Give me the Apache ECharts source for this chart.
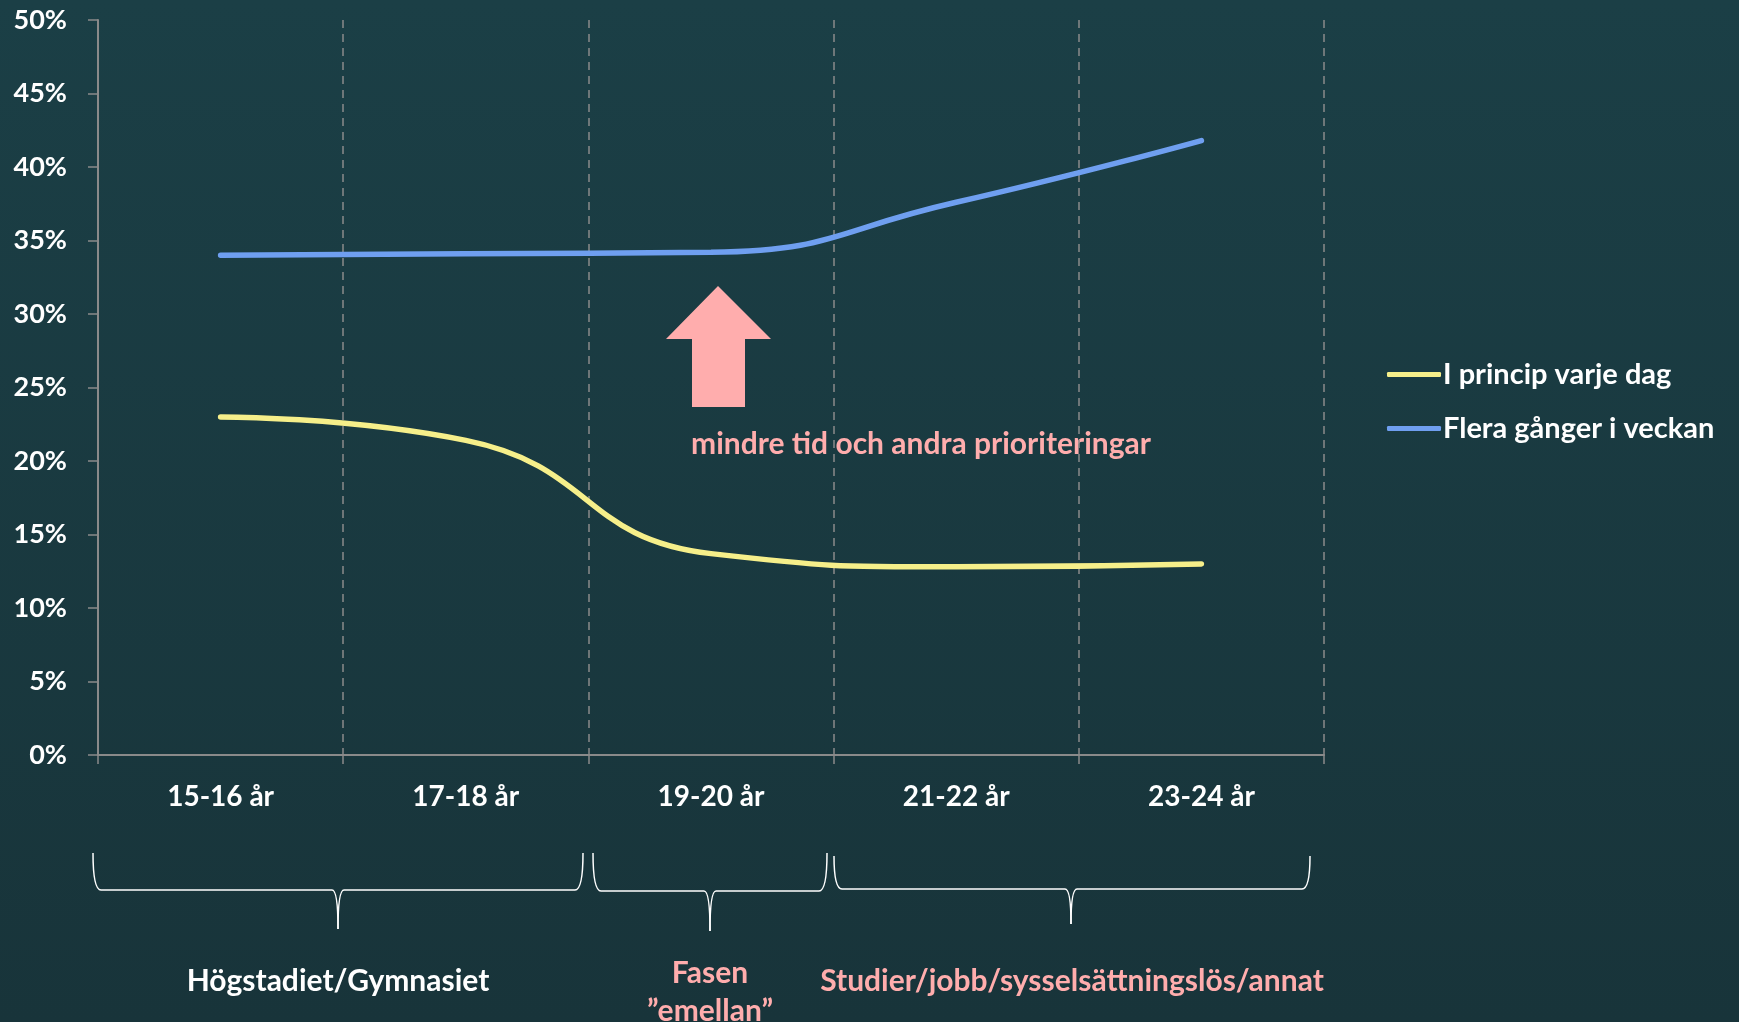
<!DOCTYPE html>
<html>
<head>
<meta charset="utf-8">
<script src="https://cdn.jsdelivr.net/npm/echarts@6/dist/echarts.min.js"></script>
<style>
html,body{margin:0;padding:0;background:#1a3c42;}
#main{width:1739px;height:1022px;}
</style>
</head>
<body>
<div id="main"></div>
<script>
var categories = ['15-16 år', '17-18 år', '19-20 år', '21-22 år', '23-24 år'];
var dailyValues = [23.0, 21.4, 13.7, 12.8, 13.0];
var weeklyValues = [34.0, 34.1, 34.2, 37.6, 41.8];
var seriesNames = ['I princip varje dag', 'Flera gånger i veckan'];
var colors = ['#f6ef8a', '#6f9ff0'];
var pink = '#ffadad';
var font = 'Lato';

// klammer under x-axeln, byggd av kurvor och linjer
function brace(x0, x1, xm, yt, yh, yb) {
    var st = {stroke: '#fff', lineWidth: 1.5, fill: null};
    return [
        {type: 'bezierCurve', shape: {x1: x0, y1: yt, x2: x0 + 8, y2: yh, cpx1: x0, cpy1: yh}, style: st},
        {type: 'line', shape: {x1: x0 + 8, y1: yh, x2: xm - 6, y2: yh}, style: st},
        {type: 'bezierCurve', shape: {x1: xm - 6, y1: yh, x2: xm, y2: yb, cpx1: xm, cpy1: yh}, style: st},
        {type: 'bezierCurve', shape: {x1: xm + 6, y1: yh, x2: xm, y2: yb, cpx1: xm, cpy1: yh}, style: st},
        {type: 'line', shape: {x1: xm + 6, y1: yh, x2: x1 - 8, y2: yh}, style: st},
        {type: 'bezierCurve', shape: {x1: x1, y1: yt, x2: x1 - 8, y2: yh, cpx1: x1, cpy1: yh}, style: st}
    ];
}

var graphics = [
    {
        type: 'polygon',
        shape: {points: [[718, 286], [771, 339], [745, 339], [745, 407], [692, 407], [692, 339], [666, 339]]},
        style: {fill: pink}
    },
    {
        type: 'text', x: 921, y: 444,
        style: {text: 'mindre tid och andra prioriteringar', fill: pink, font: 'bold 30px ' + font, align: 'center', verticalAlign: 'middle'}
    },
    {
        type: 'text', x: 338, y: 981,
        style: {text: 'Högstadiet/Gymnasiet', fill: '#fff', font: 'bold 30px ' + font, align: 'center', verticalAlign: 'middle'}
    },
    {
        type: 'text', x: 710, y: 973,
        style: {text: 'Fasen', fill: pink, font: 'bold 30px ' + font, align: 'center', verticalAlign: 'middle'}
    },
    {
        type: 'text', x: 710, y: 1011,
        style: {text: '”emellan”', fill: pink, font: 'bold 30px ' + font, align: 'center', verticalAlign: 'middle'}
    },
    {
        type: 'text', x: 1072, y: 981,
        style: {text: 'Studier/jobb/sysselsättningslös/annat', fill: pink, font: 'bold 30px ' + font, align: 'center', verticalAlign: 'middle'}
    }
].concat(brace(93, 583, 338, 853, 890, 929))
 .concat(brace(593, 827, 710, 853, 891, 931))
 .concat(brace(834, 1310, 1071, 856, 889, 924));

var option = {
    backgroundColor: {
        type: 'linear', x: 0, y: 0, x2: 0, y2: 1,
        colorStops: [{offset: 0, color: '#1b3f46'}, {offset: 1, color: '#18343a'}]
    },
    textStyle: {fontFamily: font},
    grid: {left: 98, right: 415, top: 20, bottom: 267},
    legend: {
        orient: 'vertical',
        left: 1382,
        top: 355,
        itemWidth: 54,
        itemHeight: 5,
        itemGap: 25,
        icon: 'roundRect',
        textStyle: {color: '#fff', fontSize: 29, fontWeight: 'bold', fontFamily: font, padding: [0, 0, 0, -3]},
        data: seriesNames
    },
    xAxis: {
        type: 'category',
        boundaryGap: true,
        data: categories,
        axisLine: {lineStyle: {color: '#8a8a8a', width: 2}},
        axisTick: {show: true, length: 9, lineStyle: {color: '#8a8a8a', width: 1.5}},
        splitLine: {show: true, lineStyle: {color: '#8a8a8a', width: 1.5, type: [8, 6]}},
        axisLabel: {color: '#fff', fontSize: 28, fontWeight: 'bold', margin: 28, fontFamily: font}
    },
    yAxis: {
        type: 'value',
        min: 0,
        max: 50,
        interval: 5,
        axisLine: {show: true, lineStyle: {color: '#8a8a8a', width: 2}},
        axisTick: {show: true, length: 10, lineStyle: {color: '#8a8a8a', width: 1.5}},
        splitLine: {show: false},
        axisLabel: {color: '#fff', fontSize: 27, fontWeight: 'bold', margin: 31, formatter: '{value}%', fontFamily: font}
    },
    series: [
        {
            name: seriesNames[0],
            type: 'line',
            smooth: 0.5,
            showSymbol: false,
            color: colors[0],
            lineStyle: {width: 5.5, cap: 'round'},
            data: dailyValues
        },
        {
            name: seriesNames[1],
            type: 'line',
            smooth: 0.5,
            showSymbol: false,
            color: colors[1],
            lineStyle: {width: 5.5, cap: 'round'},
            data: weeklyValues
        }
    ],
    graphic: graphics
};

var chart = echarts.init(document.getElementById('main'));
chart.setOption(option);
</script>
</body>
</html>
